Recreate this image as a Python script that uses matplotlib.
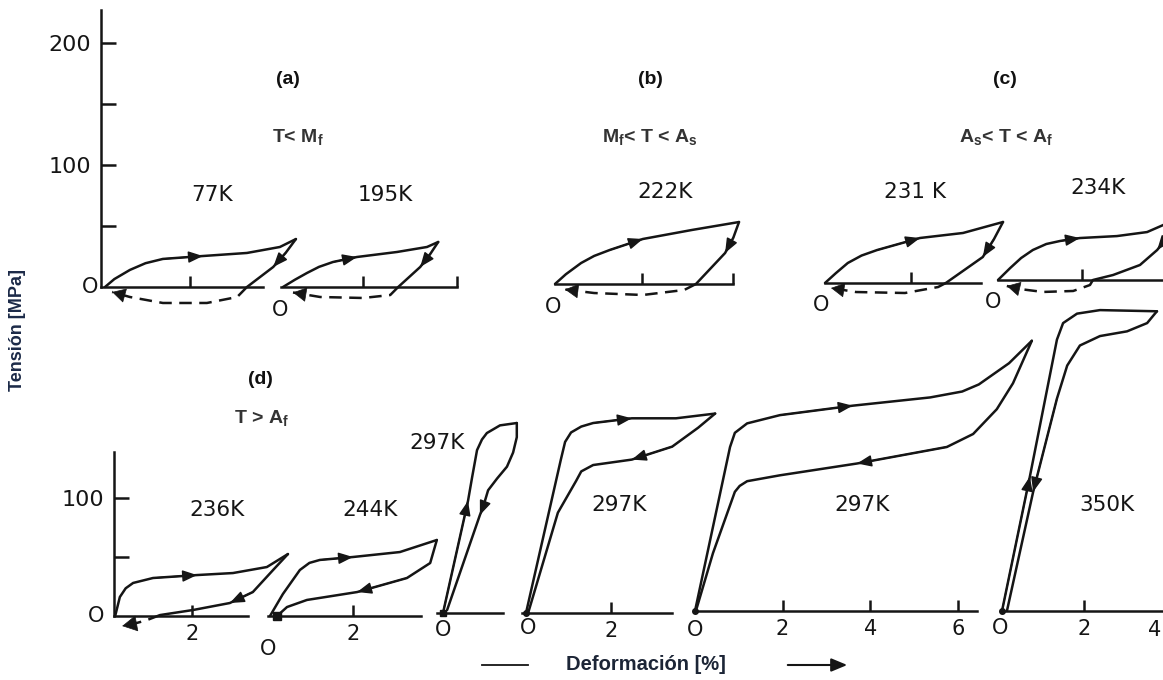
import matplotlib
matplotlib.use('Agg')
import matplotlib.pyplot as plt
from matplotlib.lines import Line2D

# ---------------- data (strain %, stress MPa) ----------------
# (a) T < Mf
k77_load_x = [0.09, 0.3, 0.65, 1.0, 1.39, 2.29, 3.28, 4.02, 4.38]
k77_load_y = [0, 6.5, 14, 19.5, 23, 25.4, 27.9, 32.8, 39.3]
k77_unl_x = [4.38, 4.15, 3.87, 3.28]
k77_unl_y = [39.3, 28, 16.4, 0]
k77_dash_x = [3.28, 3.06, 2.38, 1.39, 0.65, 0.25]
k77_dash_y = [0, -8.2, -13.1, -13.1, -8.2, -4.1]

k195_load_x = [0, 0.3, 0.6, 0.9, 1.25, 1.85, 2.85, 3.6, 3.88]
k195_load_y = [0, 6, 11.5, 16.5, 20.5, 24.6, 28.7, 32.8, 36.9]
k195_unl_x = [3.88, 3.68, 3.43, 2.88]
k195_unl_y = [36.9, 27, 16.4, 0]
k195_dash_x = [2.88, 2.68, 2.0, 0.93, 0.25]
k195_dash_y = [0, -6.6, -9, -8.2, -4.5]

# (b) Mf < T < As
k222_load_x = [0, 0.25, 0.6, 0.9, 1.26, 2.02, 3.15, 4.23]
k222_load_y = [0, 8, 17.2, 23, 27.9, 36.9, 44.3, 50.8]
k222_unl_x = [4.23, 4.1, 3.91, 3.24]
k222_unl_y = [50.8, 38, 25.4, 0]
k222_dash_x = [3.24, 2.97, 2.02, 0.9, 0.23]
k222_dash_y = [0, -4.9, -9, -7.4, -4.5]

# (c) As < T < Af
k231_load_x = [0, 0.25, 0.53, 0.85, 1.21, 2.21, 3.21, 4.14]
k231_load_y = [0, 8, 16.4, 22.5, 27, 36.9, 41, 50]
k231_unl_x = [4.14, 3.93, 3.67, 2.81]
k231_unl_y = [50, 36, 21.3, 0]
k231_dash_x = [2.81, 2.63, 1.86, 0.72, 0.14]
k231_dash_y = [0, -3.3, -8.2, -7.4, -4.1]

k234_load_x = [0, 0.29, 0.55, 0.83, 1.15, 1.48, 1.95, 2.83, 3.55, 3.93, 4.4]
k234_load_y = [0, 9.8, 18, 24.6, 29.5, 32, 34.4, 36, 39.3, 45, 55]
k234_unl_x = [4.4, 4.1, 3.79, 3.38, 2.74, 2.26]
k234_unl_y = [55, 38, 24.6, 12.3, 4.1, 0]
k234_dash_x = [2.26, 2.19, 1.79, 1.07, 0.52, 0.21]
k234_dash_y = [0, -4.1, -9, -9.8, -7.4, -4.9]

# (d) T > Af
k236_load_x = [0.03, 0.15, 0.3, 0.49, 1.0, 2.13, 3.05, 3.92, 4.46]
k236_load_y = [0, 16.1, 23.5, 28, 32.2, 34.7, 36.4, 41.5, 52.5]
k236_unl_x = [4.46, 4.08, 3.56, 2.97, 2.03, 1.18]
k236_unl_y = [52.5, 39, 20.3, 11, 5.1, 0.8]
k236_dash_x = [1.18, 0.85, 0.49, 0.21]
k236_dash_y = [0.8, -3.4, -6.8, -8.5]

k244_load_x = [0, 0.31, 0.72, 0.95, 1.2, 2.0, 3.13, 4.02]
k244_load_y = [0, 18.6, 39, 45, 47.5, 50, 54.2, 64.4]
k244_unl_x = [4.02, 3.86, 3.3, 2.1, 0.89, 0.41, 0.17]
k244_unl_y = [64.4, 44.9, 32.2, 20.3, 13.6, 7.6, 0]

k297a_load_x = [0, 0.61, 0.71, 0.83, 0.95, 1.07, 1.39, 1.8]
k297a_load_y = [0, 95, 115, 138, 147, 152.5, 159, 161]
k297a_unl_x = [1.8, 1.8, 1.71, 1.56, 1.32, 1.1, 0.98, 0.9, 0.1]
k297a_unl_y = [161, 149, 136, 124, 114, 104, 90, 83, 2.5]

k297b_load_x = [0, 0.82, 0.92, 1.06, 1.3, 1.58, 2.49, 3.53, 4.45]
k297b_load_y = [0, 130, 145, 153, 158, 161, 165, 165, 169]
k297b_unl_x = [4.45, 4.05, 3.44, 2.49, 1.58, 1.3, 1.18, 0.75, 0.05]
k297b_unl_y = [169, 157, 141, 130, 125.4, 120, 112, 85, 0]

k297c_load_x = [0, 0.8, 0.91, 1.19, 1.94, 3.6, 5.37, 6.1, 6.48, 7.17, 7.69]
k297c_load_y = [0, 139, 151, 159, 166, 174, 181, 186, 192, 210, 229]
k297c_unl_x = [7.69, 7.26, 6.89, 6.35, 5.75, 3.7, 1.94, 1.19, 1.02, 0.91, 0.41, 0.02]
k297c_unl_y = [229, 193, 171, 150, 139, 125, 115, 110, 106, 101, 49, 0]

k350_load_x = [0, 0.68, 1.34, 1.49, 1.83, 2.39, 3.78]
k350_load_y = [0, 114, 230, 244, 252, 255, 254]
k350_unl_x = [3.78, 3.73, 3.54, 3.05, 2.39, 1.9, 1.59, 1.34, 0.76, 0.12]
k350_unl_y = [254, 252, 244, 237, 233, 225, 208, 180, 101, 0]

main_yticks = [50, 100, 150, 200]
main_yticklabels = ['', '100', '', '200']
low_yticks = [50, 100]
low_yticklabels = ['', '100']

# ---------------- figure ----------------
W, H = 1163, 680
fig = plt.figure(figsize=(W / 100, H / 100), dpi=100)
fig.patch.set_facecolor('white')
INK = '#151515'
LW = 1.8
NUM_FONT = 'DejaVu Sans'


def panel(x0, y0, sx, sy, xmin, xmax, ymin, ymax):
    left = (x0 + xmin * sx) / W
    width = (xmax - xmin) * sx / W
    bottom = 1 - (y0 - ymin * sy) / H
    height = (ymax - ymin) * sy / H
    ax = fig.add_axes([left, bottom, width, height])
    ax.set_xlim(xmin, xmax)
    ax.set_ylim(ymin, ymax)
    ax.patch.set_alpha(0)
    for s in ax.spines.values():
        s.set_visible(False)
    ax.set_xticks([])
    ax.set_yticks([])
    return ax


def baseline(ax, x_start, x_end, ticks=(), labels=None):
    sp = ax.spines['bottom']
    sp.set_visible(True)
    sp.set_position(('data', 0))
    sp.set_bounds(x_start, x_end)
    sp.set_linewidth(LW)
    sp.set_color(INK)
    ax.set_xticks(list(ticks))
    if labels is None:
        ax.set_xticklabels([''] * len(ticks))
    else:
        ax.set_xticklabels(labels, fontsize=15, family=NUM_FONT, color=INK)
    ax.tick_params(axis='x', direction='in', length=8, width=LW, color=INK, pad=6)


def yaxis(ax, top, ticks, labels):
    sp = ax.spines['left']
    sp.set_visible(True)
    sp.set_position(('data', 0))
    sp.set_bounds(0, top)
    sp.set_linewidth(LW)
    sp.set_color(INK)
    ax.set_yticks(ticks)
    ax.set_yticklabels(labels, fontsize=16, family=NUM_FONT, color=INK)
    ax.tick_params(axis='y', direction='in', length=11, width=LW, color=INK, pad=7)


def curve(ax, xs, ys, dashed=False):
    ax.plot(xs, ys, color=INK, lw=LW, clip_on=False,
            ls=(0, (5, 3)) if dashed else '-', solid_joinstyle='round',
            solid_capstyle='round')


def arrow(ax, xs, ys, i, ms=16, back=1):
    ax.annotate('', xy=(xs[i], ys[i]), xytext=(xs[i - back], ys[i - back]),
                arrowprops=dict(arrowstyle='-|>,head_length=0.55,head_width=0.22',
                                mutation_scale=ms, color=INK, lw=LW * 0.6,
                                shrinkA=0, shrinkB=0),
                annotation_clip=False)


def tip(ax, xs, ys, ms=16):
    # arrowhead at the end of a path
    n = len(xs) - 1
    tx = xs[n] - 0.3 * (xs[n] - xs[n - 1])
    ty = ys[n] - 0.3 * (ys[n] - ys[n - 1])
    ax.annotate('', xy=(xs[n], ys[n]), xytext=(tx, ty),
                arrowprops=dict(arrowstyle='-|>,head_length=0.55,head_width=0.3',
                                mutation_scale=ms, color=INK, lw=0.5,
                                shrinkA=0, shrinkB=0),
                annotation_clip=False)


SY_TOP = 1.22
SY_BOT = 1.18

# ---- top row ----
ax = panel(101, 287, 44.5, SY_TOP, -0.2, 4.8, -20, 232)
yaxis(ax, 227, main_yticks, main_yticklabels)
baseline(ax, 0, 3.64, [2])
curve(ax, k77_load_x, k77_load_y)
curve(ax, k77_unl_x, k77_unl_y)
curve(ax, k77_dash_x, k77_dash_y, dashed=True)
arrow(ax, k77_load_x, k77_load_y, 5)
arrow(ax, k77_unl_x, k77_unl_y, 2)
tip(ax, k77_dash_x, k77_dash_y)

ax = panel(283, 287, 40, SY_TOP, -0.2, 4.6, -20, 60)
baseline(ax, -0.05, 4.35, [2, 4.35])
curve(ax, k195_load_x, k195_load_y)
curve(ax, k195_unl_x, k195_unl_y)
curve(ax, k195_dash_x, k195_dash_y, dashed=True)
arrow(ax, k195_load_x, k195_load_y, 5)
arrow(ax, k195_unl_x, k195_unl_y, 2)
tip(ax, k195_dash_x, k195_dash_y)

ax = panel(555, 284, 43.5, SY_TOP, -0.2, 4.6, -20, 60)
baseline(ax, 0, 4.1, [2, 4.1])
curve(ax, k222_load_x, k222_load_y)
curve(ax, k222_unl_x, k222_unl_y)
curve(ax, k222_dash_x, k222_dash_y, dashed=True)
arrow(ax, k222_load_x, k222_load_y, 5)
arrow(ax, k222_unl_x, k222_unl_y, 2)
tip(ax, k222_dash_x, k222_dash_y)

ax = panel(825, 283, 43, SY_TOP, -0.2, 4.6, -20, 60)
baseline(ax, 0, 3.63, [2])
curve(ax, k231_load_x, k231_load_y)
curve(ax, k231_unl_x, k231_unl_y)
curve(ax, k231_dash_x, k231_dash_y, dashed=True)
arrow(ax, k231_load_x, k231_load_y, 5)
arrow(ax, k231_unl_x, k231_unl_y, 2)
tip(ax, k231_dash_x, k231_dash_y)

ax = panel(998, 280, 42, SY_TOP, -0.2, 4.6, -20, 60)
baseline(ax, 0, 4.6, [2])
curve(ax, k234_load_x, k234_load_y)
curve(ax, k234_unl_x, k234_unl_y)
curve(ax, k234_dash_x, k234_dash_y, dashed=True)
arrow(ax, k234_load_x, k234_load_y, 6)
arrow(ax, k234_unl_x, k234_unl_y, 2)
tip(ax, k234_dash_x, k234_dash_y)

# ---- bottom row ----
ax = panel(114, 616, 39, SY_BOT, -0.2, 4.8, -15, 142)
yaxis(ax, 139, low_yticks, low_yticklabels)
baseline(ax, 0, 3.43, [2], ['2'])
curve(ax, k236_load_x, k236_load_y)
curve(ax, k236_unl_x, k236_unl_y)
curve(ax, k236_dash_x, k236_dash_y, dashed=True)
arrow(ax, k236_load_x, k236_load_y, 5)
arrow(ax, k236_unl_x, k236_unl_y, 3)
tip(ax, k236_dash_x, k236_dash_y, ms=18)

ax = panel(270, 616, 41.5, SY_BOT, -0.2, 4.3, -15, 80)
baseline(ax, -0.05, 3.64, [2], ['2'])
curve(ax, k244_load_x, k244_load_y)
curve(ax, k244_unl_x, k244_unl_y)
arrow(ax, k244_load_x, k244_load_y, 5)
arrow(ax, k244_unl_x, k244_unl_y, 3)
ax.plot(k244_unl_x[-1:], k244_unl_y[-1:], marker='s', ms=6, color=INK, clip_on=False)

ax = panel(443, 613, 41, SY_BOT, -0.2, 2.0, -15, 170)
baseline(ax, -0.15, 1.46)
curve(ax, k297a_load_x, k297a_load_y)
curve(ax, k297a_unl_x, k297a_unl_y)
arrow(ax, k297a_load_x, k297a_load_y, 1)
arrow(ax, k297a_unl_x, k297a_unl_y, 7)
ax.plot(k297a_load_x[:1], k297a_load_y[:1], marker='s', ms=5, color=INK, clip_on=False)

ax = panel(526, 613, 42.5, SY_BOT, -0.2, 4.6, -15, 175)
baseline(ax, -0.1, 3.44, [2], ['2'])
curve(ax, k297b_load_x, k297b_load_y)
curve(ax, k297b_unl_x, k297b_unl_y)
arrow(ax, k297b_load_x, k297b_load_y, 6)
arrow(ax, k297b_unl_x, k297b_unl_y, 3)
ax.plot(k297b_load_x[:1], k297b_load_y[:1], marker='o', ms=4, color=INK, clip_on=False)

ax = panel(695, 611, 43.8, SY_BOT, -0.2, 7.9, -15, 235)
baseline(ax, 0, 6.44, [2, 4, 6], ['2', '4', '6'])
curve(ax, k297c_load_x, k297c_load_y)
curve(ax, k297c_unl_x, k297c_unl_y)
arrow(ax, k297c_load_x, k297c_load_y, 5)
arrow(ax, k297c_unl_x, k297c_unl_y, 5)
ax.plot(k297c_load_x[:1], k297c_load_y[:1], marker='o', ms=4, color=INK, clip_on=False)

ax = panel(1002, 611, 41, SY_BOT, -0.2, 4.3, -15, 262)
baseline(ax, 0, 4.3, [2, 4], ['2', ''])
curve(ax, k350_load_x, k350_load_y)
curve(ax, k350_unl_x, k350_unl_y)
arrow(ax, k350_load_x, k350_load_y, 1)
arrow(ax, k350_unl_x, k350_unl_y, 8)
ax.plot(k350_load_x[:1], k350_load_y[:1], marker='o', ms=4, color=INK, clip_on=False)

# ---------------- texts ----------------
plt.rcParams['mathtext.fontset'] = 'custom'
plt.rcParams['mathtext.rm'] = 'Liberation Sans:bold'
plt.rcParams['mathtext.it'] = 'Liberation Sans:bold'
plt.rcParams['mathtext.bf'] = 'Liberation Sans:bold'


def ftext(px, py, s, **kw):
    fig.text(px / W, 1 - py / H, s, ha='center', va='center', **kw)


for s, px, py in [('(a)', 288, 80), ('(b)', 650, 80), ('(c)', 1005, 80), ('(d)', 260, 380)]:
    ftext(px, py, s, fontsize=14, fontweight='bold', family='Liberation Sans', color='#111111')

for s, px, py in [(r'T< M$_\mathrm{f}$', 298, 137),
                  (r'M$_\mathrm{f}$< T < A$_\mathrm{s}$', 650, 137),
                  (r'A$_\mathrm{s}$< T < A$_\mathrm{f}$', 1006, 137),
                  (r'T > A$_\mathrm{f}$', 262, 418)]:
    ftext(px, py, s, fontsize=14, fontweight='bold', family='Liberation Sans', color='#333333')

for s, px, py in [('77K', 212, 195), ('195K', 385, 195), ('222K', 665, 192),
                  ('231 K', 915, 192), ('234K', 1098, 188),
                  ('236K', 217, 510), ('244K', 370, 510), ('297K', 437, 443),
                  ('297K', 619, 505), ('297K', 862, 505), ('350K', 1107, 505)]:
    ftext(px, py, s, fontsize=15.5, family=NUM_FONT, color=INK)

for px, py in [(90, 287), (280, 310), (553, 307), (821, 305), (993, 302),
               (96, 616), (268, 649), (443, 630), (528, 628), (695, 630), (1000, 628)]:
    ftext(px, py, 'O', fontsize=15, family=NUM_FONT, color=INK)

# last strain label of the 350K panel sits at the right edge
ftext(1155, 630, '4', fontsize=15, family=NUM_FONT, color=INK)

fig.text(18 / W, 1 - 330 / H, 'Tensión [MPa]', rotation=90, ha='center', va='center',
         fontsize=13, fontweight='bold', family='Liberation Sans', color='#1c2a48')
ftext(646, 665, 'Deformación [%]', fontsize=14.5, fontweight='bold',
      family='Liberation Sans', color='#1c2536')

fig.add_artist(Line2D([482 / W, 528 / W], [1 - 665 / H, 1 - 665 / H],
                      transform=fig.transFigure, color=INK, lw=1.3))
fig.add_artist(matplotlib.patches.FancyArrowPatch(
    (785 / W, 1 - 665 / H), (850 / W, 1 - 665 / H), transform=fig.transFigure,
    arrowstyle='-|>,head_length=0.6,head_width=0.25', mutation_scale=16,
    color=INK, lw=1.5))

fig.savefig('out.png', dpi=100, facecolor='white')
